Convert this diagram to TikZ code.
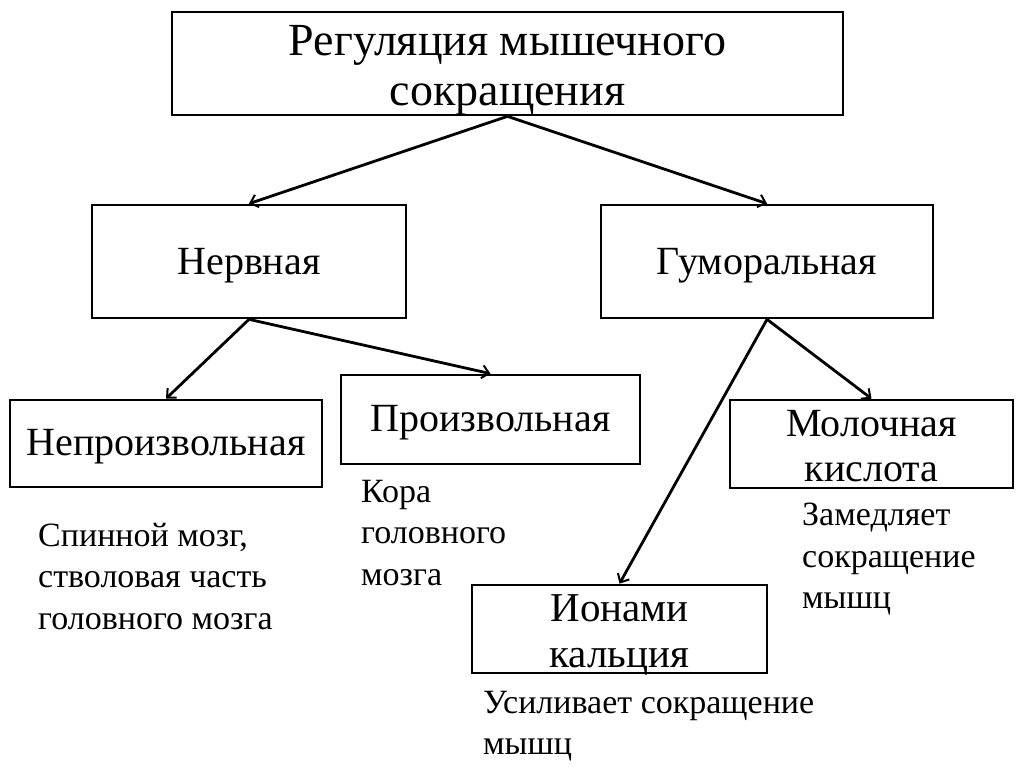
\documentclass[tikz,border=0pt]{standalone}
\usepackage{fontspec}
\setmainfont{Liberation Serif}
\usetikzlibrary{arrows.meta}
\begin{document}
\begin{tikzpicture}[x=1pt,y=-1pt,
  box/.style={draw,line width=2.7pt,inner sep=0pt},
  boxtext/.style={inner sep=0pt,align=center,font=\fontsize{40}{45}\selectfont},
  conn/.style={line width=2.8pt,-{Straight Barb[length=7pt,width=13pt,line width=2pt]}},
  note/.style={anchor=north west,align=left,inner sep=0pt,font=\fontsize{34}{41.5}\selectfont}]
\useasboundingbox (0,0) rectangle (1024,767);
% boxes
\node[box,minimum width=671pt,minimum height=103pt] (top) at (507.5,63.5) {};
\node[box,minimum width=314pt,minimum height=113pt] (nerv) at (249,261.5) {};
\node[box,minimum width=332pt,minimum height=113pt] (gum) at (767,261.5) {};
\node[box,minimum width=312pt,minimum height=87pt] (nepr) at (166,443.5) {};
\node[box,minimum width=299pt,minimum height=89pt] (proizv) at (490.5,419.5) {};
\node[box,minimum width=283pt,minimum height=88pt] (mol) at (871.5,444) {};
\node[box,minimum width=295pt,minimum height=88pt] (ion) at (619.5,629) {};
% box texts
\node[boxtext,font=\fontsize{46}{50}\selectfont,yshift=-6.5pt] (toptext) at (top.center) {Регуляция мышечного\\сокращения};
\node[boxtext,yshift=-4pt] (nervtext) at (nerv.center) {Нервная};
\node[boxtext,yshift=-4pt] (gumtext) at (gum.center) {Гуморальная};
\node[boxtext,yshift=-3pt] (neprtext) at (nepr.center) {Непроизвольная};
\node[boxtext,yshift=-3pt] (proizvtext) at (proizv.center) {Произвольная};
\node[boxtext,yshift=-2pt] (moltext) at (mol.center) {Молочная\\кислота};
\node[boxtext,font=\fontsize{41}{46}\selectfont,yshift=-6pt] (iontext) at (ion.center) {Ионами\\кальция};
% notes
\node[note] (t1) at (38,523) {Спинной мозг,\\стволовая часть\\головного мозга};
\node[note] (t2) at (361,480) {Кора\\головного\\мозга};
\node[note] (t3) at (802,503) {Замедляет\\сокращение\\мышц};
\node[note] (t4) at (483,691) {Усиливает сокращение\\мышц};
% connectors
\draw[conn] (top.south) -- (nerv.north);
\draw[conn] (top.south) -- (gum.north);
\draw[conn] (nerv.south) -- (nepr.north);
\draw[conn] (nerv.south) -- (proizv.north);
\draw[conn] (gum.south) -- (mol.north);
\draw[conn] (gum.south) -- (ion.north);
\end{tikzpicture}
\end{document}
